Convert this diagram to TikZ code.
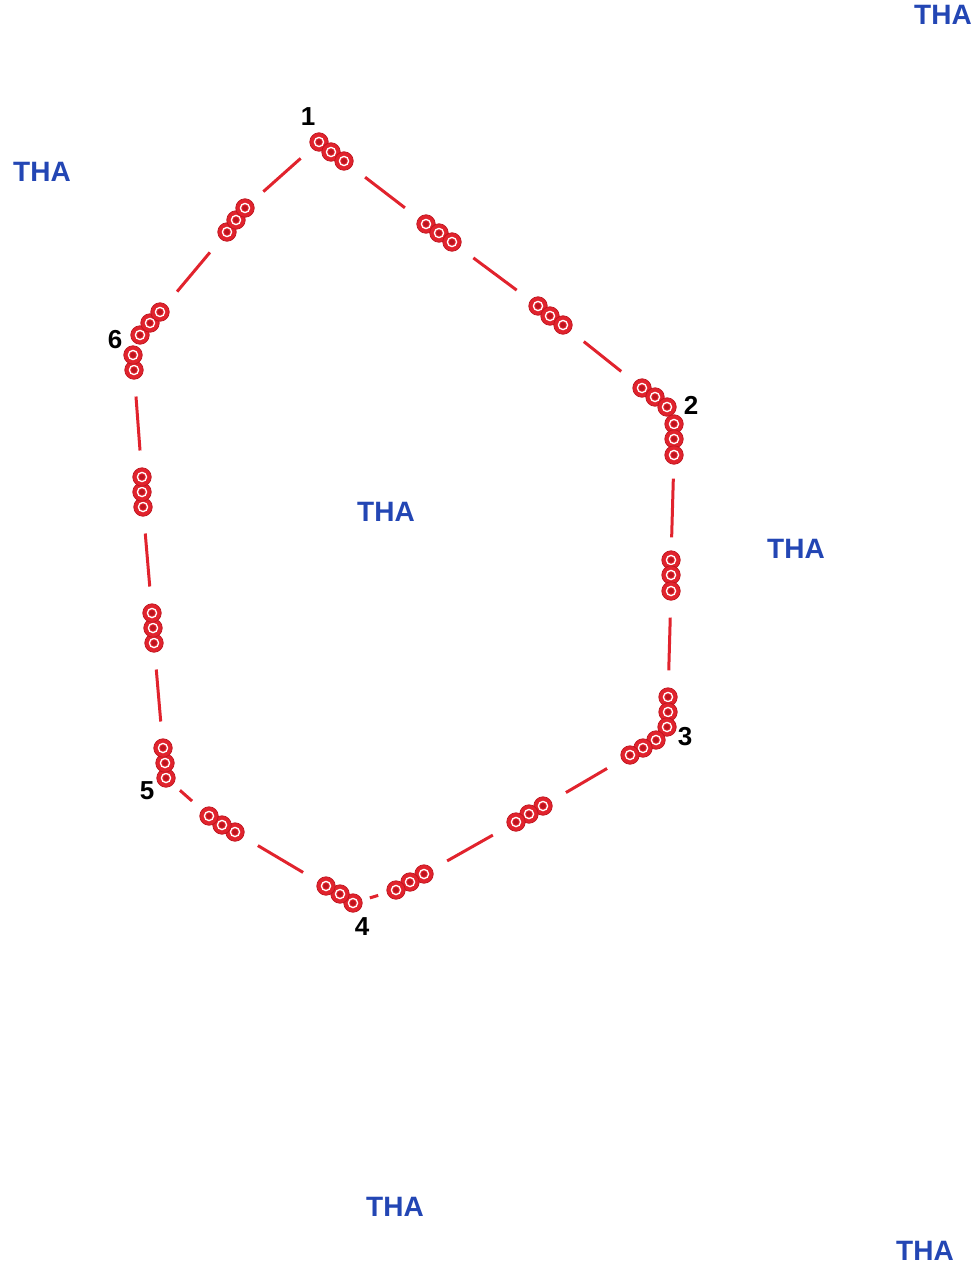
\documentclass[tikz,border=0pt]{standalone}
\usepackage{fontspec}
\setmainfont{Liberation Sans}
\usepackage{xcolor}
\definecolor{sred}{RGB}{225,35,45}
\definecolor{sdark}{RGB}{190,20,30}
\definecolor{thablue}{RGB}{35,70,180}
\usepackage{tikz}
\usetikzlibrary{positioning}

\tikzset{
  sensor/.style={circle, fill=sred, draw=sdark, line width=0.7pt, minimum size=18.5pt, inner sep=0pt,
    path picture={\draw[white, line width=1.3pt] (path picture bounding box.center) circle (4.6pt);
                  \fill[sdark] (path picture bounding box.center) circle (2.6pt);}},
  wire/.style={sred, line width=3pt, shorten >=17pt, shorten <=17pt},
  corner/.style={font=\fontsize{26}{26}\selectfont\bfseries, black},
  tha/.style={font=\fontsize{28}{28}\selectfont\bfseries, thablue}
}

\begin{document}
\begin{tikzpicture}[x=1pt, y=-1pt]
  \useasboundingbox (0,0) rectangle (972,1266);

  % Corner 1
  \node[sensor] (p1a) at (319,142) {}; \node[sensor] (p1b) at (331,152) {}; \node[sensor] (p1c) at (344,161) {};
  \node[corner] (n1) at (308,117) {1};

  % Edge 1-2
  \node[sensor] (e12a) at (426,224) {}; \node[sensor] (e12b) at (439,233) {}; \node[sensor] (e12c) at (452,242) {};
  \node[sensor] (e12d) at (538,306) {}; \node[sensor] (e12e) at (550,316) {}; \node[sensor] (e12f) at (563,325) {};

  % Corner 2
  \node[sensor] (p2a) at (642,388) {}; \node[sensor] (p2b) at (655,397) {}; \node[sensor] (p2c) at (667,407) {};
  \node[sensor] (p2d) at (674,424) {}; \node[sensor] (p2e) at (674,439) {}; \node[sensor] (p2f) at (674,455) {};
  \node[corner] (n2) at (691,405) {2};

  % Edge 2-3
  \node[sensor] (e23a) at (671,560) {}; \node[sensor] (e23b) at (671,575) {}; \node[sensor] (e23c) at (671,591) {};

  % Corner 3
  \node[sensor] (p3a) at (668,697) {}; \node[sensor] (p3b) at (668,712) {}; \node[sensor] (p3c) at (667,727) {};
  \node[sensor] (p3d) at (656,740) {}; \node[sensor] (p3e) at (643,748) {}; \node[sensor] (p3f) at (630,755) {};
  \node[corner] (n3) at (685,737) {3};

  % Edge 3-4
  \node[sensor] (e34a) at (543,806) {}; \node[sensor] (e34b) at (529,814) {}; \node[sensor] (e34c) at (516,822) {};
  \node[sensor] (e34d) at (424,874) {}; \node[sensor] (e34e) at (410,882) {}; \node[sensor] (e34f) at (396,890) {};

  % Corner 4
  \node[sensor] (p4a) at (353,903) {}; \node[sensor] (p4b) at (340,894) {}; \node[sensor] (p4c) at (326,886) {};
  \node[corner] (n4) at (362,927) {4};

  % Edge 4-5
  \node[sensor] (e45a) at (235,832) {}; \node[sensor] (e45b) at (222,825) {}; \node[sensor] (e45c) at (209,816) {};

  % Corner 5
  \node[sensor] (p5a) at (166,778) {}; \node[sensor] (p5b) at (165,763) {}; \node[sensor] (p5c) at (163,748) {};
  \node[corner] (n5) at (147,791) {5};

  % Edge 5-6
  \node[sensor] (e56a) at (154,643) {}; \node[sensor] (e56b) at (153,628) {}; \node[sensor] (e56c) at (152,613) {};
  \node[sensor] (e56d) at (143,507) {}; \node[sensor] (e56e) at (142,492) {}; \node[sensor] (e56f) at (142,477) {};

  % Corner 6
  \node[sensor] (p6a) at (134,370) {}; \node[sensor] (p6b) at (133,355) {}; \node[sensor] (p6c) at (140,335) {};
  \node[sensor] (p6d) at (150,323) {}; \node[sensor] (p6e) at (160,312) {};
  \node[corner] (n6) at (115,340) {6};

  % Edge 6-1
  \node[sensor] (e61a) at (227,232) {}; \node[sensor] (e61b) at (236,220) {}; \node[sensor] (e61c) at (245,208) {};

  % Cable runs
  \draw[wire] (p1c) -- (e12a);
  \draw[wire] (e12c) -- (e12d);
  \draw[wire] (e12f) -- (p2a);
  \draw[wire, shorten <=14pt, shorten >=13pt] (p2f) -- (e23a);
  \draw[wire] (e23c) -- (p3a);
  \draw[wire] (p3f) -- (e34a);
  \draw[wire] (e34c) -- (e34d);
  \draw[wire, shorten <=9pt, shorten >=8pt] (e34f) -- (p4a);
  \draw[wire] (p4c) -- (e45a);
  \draw[wire, shorten <=13pt, shorten >=9pt] (e45c) -- (p5a);
  \draw[wire] (p5c) -- (e56a);
  \draw[wire] (e56c) -- (e56d);
  \draw[wire] (e56f) -- (p6a);
  \draw[wire] (p6e) -- (e61a);
  \draw[wire, shorten <=15pt, shorten >=15pt] (e61c) -- (p1a);

  % THA labels
  \node[tha] (tha1) at (943,15) {THA};
  \node[tha] (tha2) at (42,172) {THA};
  \node[tha] (tha3) at (386,512) {THA};
  \node[tha] (tha4) at (796,549) {THA};
  \node[tha] (tha5) at (395,1207) {THA};
  \node[tha] (tha6) at (925,1251) {THA};
\end{tikzpicture}
\end{document}
